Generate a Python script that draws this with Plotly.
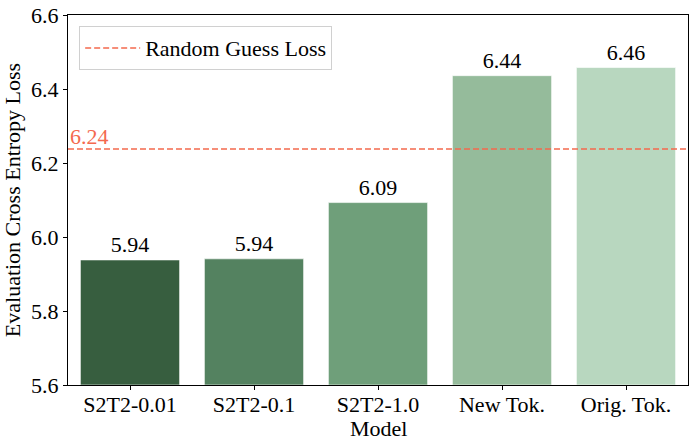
import plotly.graph_objects as go

models = ["S2T2-0.01", "S2T2-0.1", "S2T2-1.0", "New Tok.", "Orig. Tok."]
losses = [5.938, 5.941, 6.093, 6.436, 6.458]
labels = ["5.94", "5.94", "6.09", "6.44", "6.46"]
bar_colors = ["#375e3f", "#548260", "#6f9f7a", "#95bb9b", "#b8d7bf"]
random_guess = 6.238
y_ticks = [5.6, 5.8, 6.0, 6.2, 6.4, 6.6]

FONT = "Liberation Serif"
FS = 22
RED = "#f4694e"

fig = go.Figure()
fig.add_trace(go.Bar(
    x=list(range(len(models))), y=[v - 5.6 for v in losses], base=5.6,
    width=0.8,
    marker=dict(color=bar_colors, line=dict(color="rgba(255,255,255,0.6)", width=1)),
    text=labels, textposition="outside", cliponaxis=False,
    textfont=dict(family=FONT, size=FS, color="black"),
    showlegend=False, hoverinfo="skip",
))
fig.add_trace(go.Scatter(
    x=[-0.5, len(models) - 0.5], y=[random_guess, random_guess], mode="lines",
    line=dict(color=RED, width=1.5, dash="6px,3px"),
    name="Random Guess Loss", showlegend=True, hoverinfo="skip",
))
fig.add_annotation(
    x=-0.5, y=random_guess, xref="x", yref="y", text=f"{random_guess:.2f}",
    showarrow=False, xanchor="left", yanchor="bottom", yshift=-2, xshift=0,
    font=dict(family=FONT, size=FS, color=RED),
)
fig.add_annotation(
    x=0.5, y=0, xref="paper", yref="paper", text="Model",
    showarrow=False, xanchor="center", yanchor="middle", yshift=-43,
    font=dict(family=FONT, size=FS, color="black"),
)

fig.update_layout(
    width=696, height=446,
    margin=dict(l=68, r=8, t=15, b=61),
    plot_bgcolor="white", paper_bgcolor="white",
    font=dict(family=FONT, size=FS, color="black"),
    legend=dict(
        x=0.018, y=0.97, xanchor="left", yanchor="top",
        bgcolor="rgba(255,255,255,0.8)", bordercolor="#d0d0d0", borderwidth=1,
        font=dict(family=FONT, size=FS), itemwidth=55,
    ),
    xaxis=dict(
        range=[-0.5, len(models) - 0.5], automargin=False,
        tickmode="array", tickvals=list(range(len(models))), ticktext=models,
        showline=True, linecolor="black", linewidth=1, mirror=True,
        ticks="outside", ticklen=4, tickcolor="black", ticklabelstandoff=-4,
        showgrid=False, zeroline=False,
        tickfont=dict(family=FONT, size=FS),
    ),
    yaxis=dict(
        range=[5.6, 6.6], automargin=False,
        tickmode="array", tickvals=y_ticks, ticktext=[f"{t:.1f}" for t in y_ticks],
        showline=True, linecolor="black", linewidth=1, mirror=True,
        ticks="outside", ticklen=4, tickcolor="black",
        showgrid=False, zeroline=False,
        title=dict(text="Evaluation Cross Entropy Loss", standoff=9, font=dict(family=FONT, size=FS)),
        tickfont=dict(family=FONT, size=FS),
    ),
)

fig.write_html("out.html", config={"displayModeBar": False},
               post_script="document.body.style.margin='0';")
